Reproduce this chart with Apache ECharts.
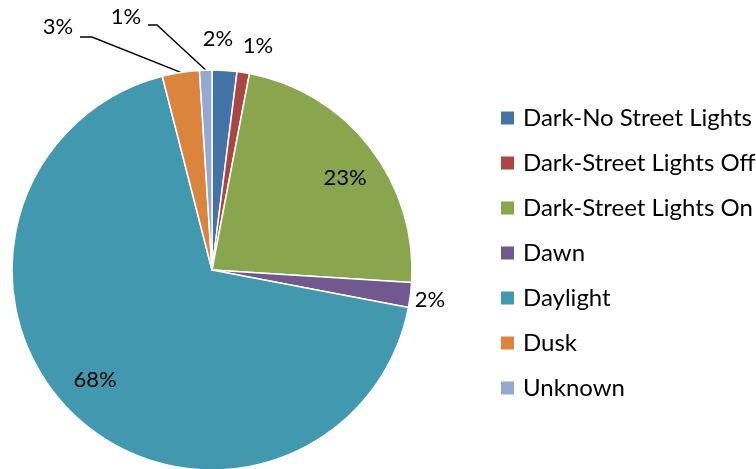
<!DOCTYPE html>
<html>
<head>
<meta charset="utf-8">
<script src="https://cdn.jsdelivr.net/npm/echarts@6/dist/echarts.min.js"></script>
<style>
  html, body { margin: 0; padding: 0; background: #fff; }
  #chart { width: 756px; height: 469px; }
</style>
</head>
<body>
<div id="chart"></div>
<script>
// Light condition shares (percent of total)
const categories = [
  'Dark-No Street Lights',
  'Dark-Street Lights Off',
  'Dark-Street Lights On',
  'Dawn',
  'Daylight',
  'Dusk',
  'Unknown'
];
const shares = [2, 1, 23, 2, 68, 3, 1];
const colors = ['#4572A7', '#AA4643', '#89A54E', '#71588F', '#4198AF', '#DB843D', '#93A9CF'];

const FONT = 'Lato, "Open Sans", sans-serif';
const CX = 212, CY = 270, R = 200;

// label placement: text centre, plus leader elbow/end where a leader is drawn
const labelSpots = [
  { x: 218, y: 39 },
  { x: 258, y: 46 },
  { x: 345, y: 178 },
  { x: 430, y: 300 },
  { x: 95,  y: 380 },
  { x: 58,  y: 27, leader: [[92, 37], [80, 37]] },
  { x: 126, y: 17, leader: [[157, 25], [148, 25]] }
];

const total = shares.reduce((a, b) => a + b, 0);
function edgePoint(i) {
  let before = 0;
  for (let k = 0; k < i; k++) before += shares[k];
  const mid = (before + shares[i] / 2) / total * Math.PI * 2;
  return [CX + R * Math.sin(mid), CY - R * Math.cos(mid)];
}

const data = categories.map((name, i) => ({
  name,
  value: shares[i],
  itemStyle: { color: colors[i] },
  labelLine: { show: !!labelSpots[i].leader }
}));

const chart = echarts.init(document.getElementById('chart'), null, { renderer: 'canvas' });
chart.setOption({
  animation: false,
  backgroundColor: '#ffffff',
  legend: {
    orient: 'vertical',
    left: 494,
    top: 101,
    padding: 5,
    itemWidth: 15,
    itemHeight: 15,
    itemGap: 21,
    icon: 'rect',
    textStyle: {
      fontFamily: FONT,
      fontSize: 24,
      color: '#000',
      padding: [0, 0, 0, 3],
      lineHeight: 24
    },
    data: categories
  },
  series: [{
    type: 'pie',
    center: [CX, CY],
    radius: R,
    startAngle: 90,
    clockwise: true,
    avoidLabelOverlap: false,
    itemStyle: { borderColor: '#ffffff', borderWidth: 1.5 },
    label: {
      show: true,
      position: 'outside',
      formatter: '{c}%',
      fontFamily: FONT,
      fontSize: 22,
      color: '#000'
    },
    labelLine: {
      show: false,
      length: 10,
      length2: 10,
      lineStyle: { color: '#000', width: 1.4 }
    },
    emphasis: { disabled: true },
    labelLayout: function (params) {
      const i = params.dataIndex;
      const s = labelSpots[i];
      const out = { x: s.x, y: s.y, align: 'center', verticalAlign: 'middle' };
      if (s.leader) {
        out.labelLinePoints = [edgePoint(i), s.leader[0], s.leader[1]];
      }
      return out;
    },
    data
  }]
});
</script>
</body>
</html>
